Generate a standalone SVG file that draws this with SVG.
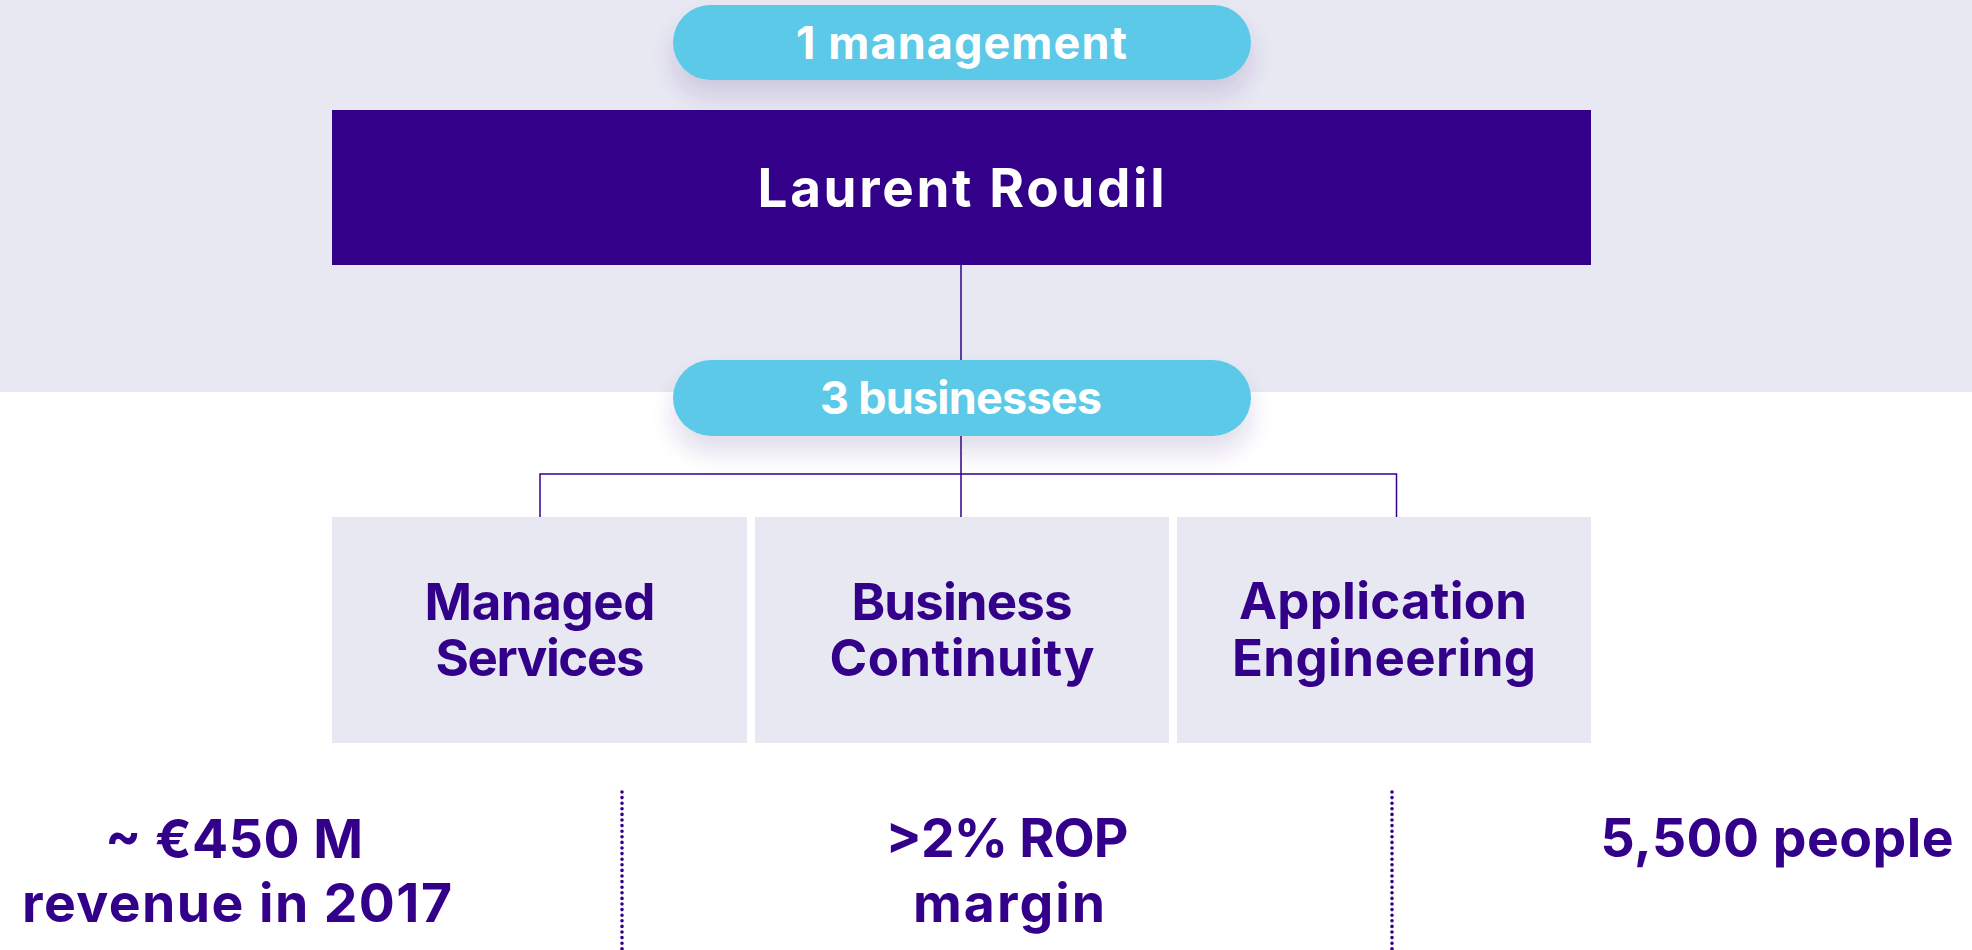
<svg xmlns="http://www.w3.org/2000/svg" width="1972" height="950" viewBox="0 0 1972 950">
  <defs>
    <filter id="pillShadow" x="-20%" y="-50%" width="140%" height="220%">
      <feDropShadow dx="0" dy="16" stdDeviation="11" flood-color="#3a2a80" flood-opacity="0.16"/>
    </filter>
    <style>
      .band { fill: #e8e8f2; }
      .pill { fill: #5bc9e8; filter: url(#pillShadow); }
      .lead { fill: #33008a; }
      .unit { fill: #e8e8f2; }
      .wire { fill: none; stroke: #33008a; stroke-width: 1.5; }
      .dots { fill: none; stroke: #33008a; stroke-width: 3.6; stroke-linecap: round; stroke-dasharray: 0 5.6; }
      text { font-family: Inter, "Open Sans", "DejaVu Sans", sans-serif; font-weight: 700; text-anchor: middle; }
      .pill-label { fill: #ffffff; font-size: 45px; }
      .lead-label { fill: #ffffff; font-size: 53px; }
      .unit-label { fill: #33008a; font-size: 51px; }
      .fact { fill: #33008a; font-size: 53.5px; }
    </style>
  </defs>

  <!-- management band -->
  <rect class="band" x="0" y="0" width="1972" height="392"/>

  <!-- org chart wiring -->
  <g id="connectors">
    <path class="wire" d="M961 265 V360"/>
    <path class="wire" d="M961 436 V517"/>
    <path class="wire" d="M540 517 V474 H1396.5 V517"/>
  </g>

  <g id="management-pill">
    <rect class="pill" x="673" y="5" width="578" height="75" rx="37.5"/>
    <text class="pill-label" x="961.5" y="59" textLength="331" lengthAdjust="spacing">1 management</text>
  </g>

  <g id="laurent-roudil">
    <rect class="lead" x="332" y="110" width="1259" height="155"/>
    <text class="lead-label" x="961" y="207" textLength="407" lengthAdjust="spacing">Laurent Roudil</text>
  </g>

  <g id="businesses-pill">
    <rect class="pill" x="673" y="360" width="578" height="76" rx="38"/>
    <text class="pill-label" x="961" y="414" textLength="282" lengthAdjust="spacing">3 businesses</text>
  </g>

  <g id="managed-services">
    <rect class="unit" x="332" y="517" width="415" height="226"/>
    <text class="unit-label" x="540" y="620" textLength="231" lengthAdjust="spacing">Managed</text>
    <text class="unit-label" x="540" y="676" textLength="209" lengthAdjust="spacing">Services</text>
  </g>

  <g id="business-continuity">
    <rect class="unit" x="755" y="517" width="414" height="226"/>
    <text class="unit-label" x="962" y="620" textLength="221" lengthAdjust="spacing">Business</text>
    <text class="unit-label" x="962" y="676" textLength="265" lengthAdjust="spacing">Continuity</text>
  </g>

  <g id="application-engineering">
    <rect class="unit" x="1177" y="517" width="414" height="226"/>
    <text class="unit-label" x="1383" y="619" textLength="288" lengthAdjust="spacing">Application</text>
    <text class="unit-label" x="1384" y="676" textLength="304" lengthAdjust="spacing">Engineering</text>
  </g>

  <!-- key figures -->
  <g id="key-figures">
    <text class="fact" x="234" y="858" textLength="258" lengthAdjust="spacing">~ €450 M</text>
    <text class="fact" x="237" y="922" textLength="430" lengthAdjust="spacing">revenue in 2017</text>
    <path class="dots" d="M622 792 V952"/>
    <text class="fact" x="1007" y="857" textLength="243" lengthAdjust="spacing">&gt;2% ROP</text>
    <text class="fact" x="1009" y="922" textLength="192" lengthAdjust="spacing">margin</text>
    <path class="dots" d="M1392 792 V952"/>
    <text class="fact" x="1777" y="857" textLength="353" lengthAdjust="spacing">5,500 people</text>
  </g>
</svg>
